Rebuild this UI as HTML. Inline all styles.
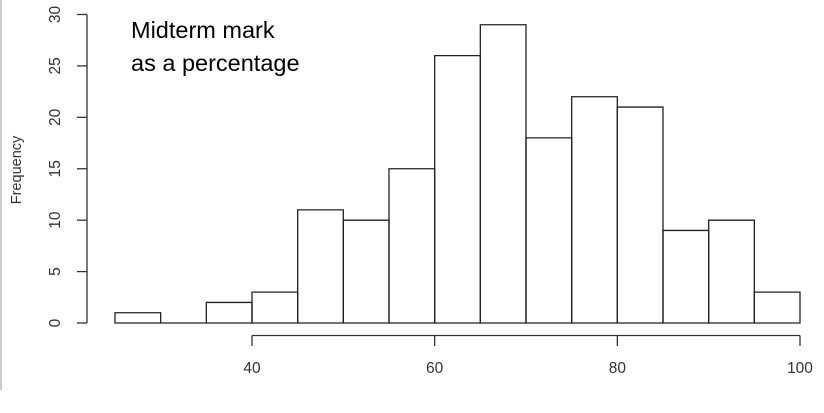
<!DOCTYPE html>
<html><head><meta charset="utf-8"><style>
html,body{margin:0;padding:0;background:#fff;}
svg{display:block;}
</style></head><body>
<svg id="chart" width="824" height="413" xmlns="http://www.w3.org/2000/svg">
<line x1="1" y1="0" x2="1" y2="390" stroke="#ccc" stroke-width="2"/>
<g id="bars"></g>
<g id="axes"></g>
<text transform="translate(21,170) rotate(-90)" text-anchor="middle" font-family="Liberation Sans, sans-serif" font-size="14.5" fill="#333">Frequency</text>
<text x="131" y="38" font-family="Liberation Sans, sans-serif" font-size="23.5" fill="#000">Midterm mark</text>
<text x="131" y="71" font-family="Liberation Sans, sans-serif" font-size="23.5" fill="#000">as a percentage</text>
</svg>
<script>
const binStarts = [25,30,35,40,45,50,55,60,65,70,75,80,85,90,95];
const counts = [1,0,2,3,11,10,15,26,29,18,22,21,9,10,3];
const binWidth = 5;
const yTicks = [0,5,10,15,20,25,30];
const xTicks = [40,60,80,100];

const xs = v => 252 + (v - 40) * (548 / 60);
const ys = v => 323 - v * (308.5 / 30);
const NS = 'http://www.w3.org/2000/svg';
const bars = document.getElementById('bars');
const axes = document.getElementById('axes');

binStarts.forEach((b, i) => {
  const p = document.createElementNS(NS, 'path');
  
  
  const x0 = xs(b), x1 = xs(b + binWidth), y = ys(counts[i]), yb = ys(0);
  p.setAttribute('d', 'M' + x0 + ',' + yb + 'L' + x0 + ',' + y + 'L' + x1 + ',' + y + 'L' + x1 + ',' + yb + 'Z');
  p.setAttribute('fill', 'none'); p.setAttribute('stroke', '#222'); p.setAttribute('stroke-width', '1.3');
  bars.appendChild(p);
});

function ln(x1, y1, x2, y2, name) {
  const l = document.createElementNS(NS, 'line');
  
  
  l.setAttribute('x1', x1); l.setAttribute('y1', y1); l.setAttribute('x2', x2); l.setAttribute('y2', y2);
  l.setAttribute('stroke', '#333'); l.setAttribute('stroke-width', '1.3');
  axes.appendChild(l);
}
function tx(x, y, s, rot, name) {
  const t = document.createElementNS(NS, 'text');
  
  
  t.setAttribute('text-anchor', 'middle');
  t.setAttribute('font-family', 'Liberation Sans, sans-serif');
  t.setAttribute('font-size', '15.5');
  t.setAttribute('fill', '#333');
  if (rot) t.setAttribute('transform', 'translate(' + x + ',' + y + ') rotate(-90)');
  else { t.setAttribute('x', x); t.setAttribute('y', y); }
  t.textContent = s;
  axes.appendChild(t);
}
ln(87, ys(yTicks[0]), 87, ys(yTicks[yTicks.length - 1]), 'y-axis-line');
yTicks.forEach(v => {
  ln(77, ys(v), 87, ys(v), 'y-tick');
  tx(60, ys(v), String(v), true, 'y-tick-label');
});
ln(xs(xTicks[0]), 335.5, xs(xTicks[xTicks.length - 1]), 335.5, 'x-axis-line');
xTicks.forEach(v => {
  ln(xs(v), 335.5, xs(v), 346, 'x-tick');
  tx(xs(v), 373, String(v), false, 'x-tick-label');
});
</script>
</body></html>
